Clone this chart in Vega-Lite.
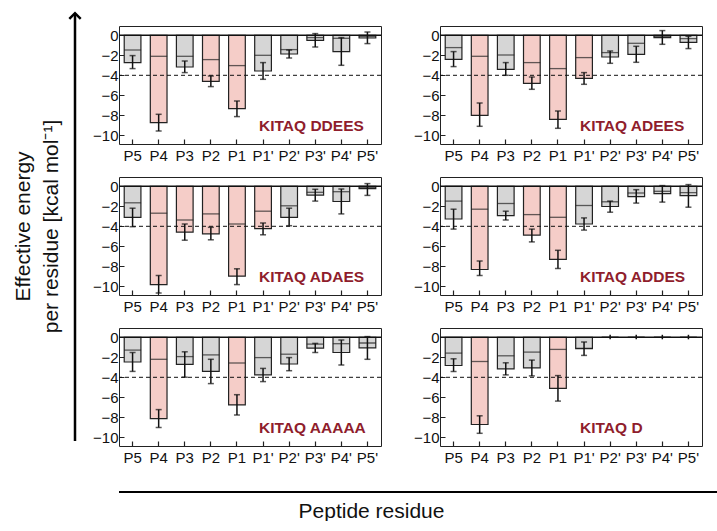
{
  "$schema": "https://vega.github.io/schema/vega-lite/v6.json",
  "background": "white",
  "padding": {"left": 12, "top": 8, "right": 0, "bottom": 0},
  "config": {
    "view": {"stroke": null},
    "font": "Liberation Sans",
    "header": {"labels": false, "title": null, "labelPadding": 0, "titlePadding": 0, "labelFontSize": 0, "labelExpr": "''"},
    "headerFacet": {"labels": false, "title": null, "labelPadding": 0, "titlePadding": 0, "labelFontSize": 0, "labelExpr": "''"},
    "axis": {"labelFont": "Liberation Sans", "titleFont": "Liberation Sans", "labelColor": "#111", "titleColor": "#111"},
    "axisY": {"labelOverlap": false, "labelBound": false, "labelFlush": false},
    "text": {"font": "Liberation Sans"}
  },
  "datasets": {
    "energy": [
      {"panel": "KITAQ DDEES", "res": "P5", "val": -2.73, "inner": -1.47, "lo": -3.33, "hi": -2.03},
      {"panel": "KITAQ DDEES", "res": "P4", "val": -8.73, "inner": -2.1, "lo": -9.57, "hi": -7.9},
      {"panel": "KITAQ DDEES", "res": "P3", "val": -3.17, "inner": -2.1, "lo": -3.73, "hi": -2.57},
      {"panel": "KITAQ DDEES", "res": "P2", "val": -4.6, "inner": -2.43, "lo": -5.13, "hi": -4.07},
      {"panel": "KITAQ DDEES", "res": "P1", "val": -7.33, "inner": -3.03, "lo": -8.13, "hi": -6.57},
      {"panel": "KITAQ DDEES", "res": "P1'", "val": -3.57, "inner": -2.0, "lo": -4.4, "hi": -2.73},
      {"panel": "KITAQ DDEES", "res": "P2'", "val": -1.87, "inner": -1.43, "lo": -2.27, "hi": -1.47},
      {"panel": "KITAQ DDEES", "res": "P3'", "val": -0.5, "inner": -0.23, "lo": -1.17, "hi": 0.17},
      {"panel": "KITAQ DDEES", "res": "P4'", "val": -1.63, "inner": -0.3, "lo": -3.0, "hi": -0.23},
      {"panel": "KITAQ DDEES", "res": "P5'", "val": -0.27, "inner": -0.13, "lo": -0.83, "hi": 0.33},

      {"panel": "KITAQ ADEES", "res": "P5", "val": -2.4, "inner": -1.23, "lo": -3.13, "hi": -1.63},
      {"panel": "KITAQ ADEES", "res": "P4", "val": -8.0, "inner": -2.1, "lo": -9.1, "hi": -6.77},
      {"panel": "KITAQ ADEES", "res": "P3", "val": -3.4, "inner": -1.97, "lo": -4.0, "hi": -2.73},
      {"panel": "KITAQ ADEES", "res": "P2", "val": -4.8, "inner": -2.73, "lo": -5.4, "hi": -4.17},
      {"panel": "KITAQ ADEES", "res": "P1", "val": -8.4, "inner": -3.33, "lo": -9.3, "hi": -7.57},
      {"panel": "KITAQ ADEES", "res": "P1'", "val": -4.3, "inner": -2.23, "lo": -4.9, "hi": -3.73},
      {"panel": "KITAQ ADEES", "res": "P2'", "val": -2.17, "inner": -1.73, "lo": -2.8, "hi": -1.57},
      {"panel": "KITAQ ADEES", "res": "P3'", "val": -1.9, "inner": -0.8, "lo": -2.7, "hi": -1.1},
      {"panel": "KITAQ ADEES", "res": "P4'", "val": -0.23, "inner": -0.1, "lo": -0.9, "hi": 0.47},
      {"panel": "KITAQ ADEES", "res": "P5'", "val": -0.7, "inner": -0.33, "lo": -1.33, "hi": -0.1},

      {"panel": "KITAQ ADAES", "res": "P5", "val": -3.1, "inner": -1.65, "lo": -4.04, "hi": -2.19},
      {"panel": "KITAQ ADAES", "res": "P4", "val": -9.83, "inner": -2.69, "lo": -10.67, "hi": -8.92},
      {"panel": "KITAQ ADAES", "res": "P3", "val": -4.58, "inner": -3.37, "lo": -5.39, "hi": -3.77},
      {"panel": "KITAQ ADAES", "res": "P2", "val": -4.75, "inner": -2.76, "lo": -5.35, "hi": -4.1},
      {"panel": "KITAQ ADAES", "res": "P1", "val": -8.99, "inner": -3.77, "lo": -9.83, "hi": -8.25},
      {"panel": "KITAQ ADAES", "res": "P1'", "val": -4.24, "inner": -2.49, "lo": -4.85, "hi": -3.67},
      {"panel": "KITAQ ADAES", "res": "P2'", "val": -3.1, "inner": -1.95, "lo": -3.94, "hi": -2.19},
      {"panel": "KITAQ ADAES", "res": "P3'", "val": -0.88, "inner": -0.6, "lo": -1.48, "hi": -0.3},
      {"panel": "KITAQ ADAES", "res": "P4'", "val": -1.52, "inner": -0.54, "lo": -2.76, "hi": -0.27},
      {"panel": "KITAQ ADAES", "res": "P5'", "val": -0.24, "inner": -0.13, "lo": -0.91, "hi": 0.27},

      {"panel": "KITAQ ADDES", "res": "P5", "val": -3.27, "inner": -1.48, "lo": -4.28, "hi": -2.29},
      {"panel": "KITAQ ADDES", "res": "P4", "val": -8.32, "inner": -2.29, "lo": -8.92, "hi": -7.47},
      {"panel": "KITAQ ADDES", "res": "P3", "val": -2.93, "inner": -1.72, "lo": -3.37, "hi": -2.49},
      {"panel": "KITAQ ADDES", "res": "P2", "val": -4.88, "inner": -2.83, "lo": -5.56, "hi": -4.28},
      {"panel": "KITAQ ADDES", "res": "P1", "val": -7.31, "inner": -3.1, "lo": -8.22, "hi": -6.4},
      {"panel": "KITAQ ADDES", "res": "P1'", "val": -3.77, "inner": -1.92, "lo": -4.38, "hi": -3.16},
      {"panel": "KITAQ ADDES", "res": "P2'", "val": -2.02, "inner": -1.55, "lo": -2.59, "hi": -1.48},
      {"panel": "KITAQ ADDES", "res": "P3'", "val": -1.04, "inner": -0.67, "lo": -1.68, "hi": -0.34},
      {"panel": "KITAQ ADDES", "res": "P4'", "val": -0.74, "inner": -0.5, "lo": -1.58, "hi": 0.07},
      {"panel": "KITAQ ADDES", "res": "P5'", "val": -0.94, "inner": -0.64, "lo": -2.09, "hi": 0.17},

      {"panel": "KITAQ AAAAA", "res": "P5", "val": -2.47, "inner": -1.28, "lo": -3.41, "hi": -1.52},
      {"panel": "KITAQ AAAAA", "res": "P4", "val": -8.14, "inner": -2.2, "lo": -9.02, "hi": -7.23},
      {"panel": "KITAQ AAAAA", "res": "P3", "val": -2.7, "inner": -1.93, "lo": -3.99, "hi": -1.45},
      {"panel": "KITAQ AAAAA", "res": "P2", "val": -3.41, "inner": -1.76, "lo": -4.63, "hi": -2.2},
      {"panel": "KITAQ AAAAA", "res": "P1", "val": -6.76, "inner": -2.57, "lo": -7.77, "hi": -5.74},
      {"panel": "KITAQ AAAAA", "res": "P1'", "val": -3.75, "inner": -2.03, "lo": -4.43, "hi": -3.11},
      {"panel": "KITAQ AAAAA", "res": "P2'", "val": -2.67, "inner": -1.69, "lo": -3.34, "hi": -2.03},
      {"panel": "KITAQ AAAAA", "res": "P3'", "val": -1.08, "inner": -0.68, "lo": -1.52, "hi": -0.61},
      {"panel": "KITAQ AAAAA", "res": "P4'", "val": -1.52, "inner": -0.64, "lo": -2.77, "hi": -0.27},
      {"panel": "KITAQ AAAAA", "res": "P5'", "val": -1.05, "inner": -0.57, "lo": -2.2, "hi": 0.07},

      {"panel": "KITAQ D", "res": "P5", "val": -2.82, "inner": -1.58, "lo": -3.42, "hi": -2.15},
      {"panel": "KITAQ D", "res": "P4", "val": -8.72, "inner": -2.42, "lo": -9.6, "hi": -7.85},
      {"panel": "KITAQ D", "res": "P3", "val": -3.15, "inner": -1.85, "lo": -3.76, "hi": -2.55},
      {"panel": "KITAQ D", "res": "P2", "val": -3.05, "inner": -1.48, "lo": -3.86, "hi": -2.28},
      {"panel": "KITAQ D", "res": "P1", "val": -5.1, "inner": -1.21, "lo": -6.38, "hi": -3.83},
      {"panel": "KITAQ D", "res": "P1'", "val": -1.14, "inner": -1.1, "lo": -1.81, "hi": -0.47},
      {"panel": "KITAQ D", "res": "P2'", "val": 0, "inner": 0, "lo": -0.2, "hi": 0.25},
      {"panel": "KITAQ D", "res": "P3'", "val": 0, "inner": 0, "lo": -0.2, "hi": 0.25},
      {"panel": "KITAQ D", "res": "P4'", "val": 0, "inner": 0, "lo": -0.2, "hi": 0.25},
      {"panel": "KITAQ D", "res": "P5'", "val": 0, "inner": 0, "lo": -0.2, "hi": 0.25}
    ],
    "yarrow": [{"from": 0, "to": 1}],
    "xarrow": [{"from": 0, "to": 1.008}]
  },
  "spacing": 6,
  "hconcat": [
    {
      "data": {"name": "yarrow"},
      "width": 4,
      "height": 415,
      "layer": [
        {
          "mark": {"type": "rule", "color": "black", "strokeWidth": 2.5},
          "encoding": {
            "x": {"datum": 0, "type": "quantitative", "scale": {"domain": [-1, 1]}, "axis": null},
            "y": {"field": "from", "type": "quantitative", "scale": {"domain": [0, 0.97], "nice": false, "zero": false},
                  "axis": {"title": ["Effective energy", "per residue [kcal mol⁻¹]"], "labels": false, "ticks": false, "domain": false, "grid": false,
                           "titleFontSize": 21, "titleFontWeight": "normal", "titleLineHeight": 28, "titlePadding": 12, "titleY": 200}},
            "y2": {"field": "to"}
          }
        },
        {
          "mark": {"type": "point", "shape": "M-1,1L0,0L1,1", "filled": false, "stroke": "black", "strokeWidth": 2.5, "size": 130, "opacity": 1},
          "encoding": {
            "x": {"datum": 0, "type": "quantitative"},
            "y": {"field": "to", "type": "quantitative"}
          }
        }
      ]
    },
    {
      "spacing": 25,
      "vconcat": [
        {
          "data": {"name": "energy"},
          "facet": {"field": "panel", "type": "nominal", "title": null,
                    "sort": ["KITAQ DDEES", "KITAQ ADEES", "KITAQ ADAES", "KITAQ ADDES", "KITAQ AAAAA", "KITAQ D"],
                    "header": {"labels": false, "title": null, "labelPadding": 0, "labelFontSize": 0, "labelExpr": "''"}},
          "columns": 2,
          "spacing": {"column": 30, "row": 12},
          "resolve": {"axis": {"x": "independent", "y": "independent"}},
          "spec": {
            "width": 262,
            "height": 118,
            "view": {"stroke": "#222", "strokeWidth": 1},
            "encoding": {
              "x": {"field": "res", "type": "nominal",
                    "sort": ["P5", "P4", "P3", "P2", "P1", "P1'", "P2'", "P3'", "P4'", "P5'"],
                    "scale": {"paddingInner": 0.36, "paddingOuter": 0.2},
                    "axis": {"title": null, "labelAngle": 0, "domain": false, "tickSize": -5, "tickColor": "#222", "tickWidth": 1.2,
                             "labelFontSize": 15, "labelPadding": 9}}
            },
            "layer": [
              {
                "mark": {"type": "bar", "stroke": "#222", "strokeWidth": 1.2},
                "encoding": {
                  "y": {"field": "val", "type": "quantitative",
                        "scale": {"domain": [-10.87, 0.93], "nice": false, "zero": false},
                        "axis": {"title": null, "values": [0, -2, -4, -6, -8, -10], "tickCount": 12, "grid": false, "domain": false,
                                 "labelOverlap": false, "labelBound": false, "labelFlush": false, "labelSeparation": 0,
                                 "labelExpr": "datum.value < 0 ? '−' + abs(datum.value) : '0'",
                                 "tickSize": -5, "tickColor": "#222", "labelFontSize": 15, "labelPadding": 6}},
                  "y2": {"datum": 0},
                  "color": {"condition": {"test": "datum.val < -4", "value": "#f5cdc8"}, "value": "#d6d6d6"}
                }
              },
              {
                "mark": {"type": "tick", "color": "#222", "thickness": 1.3, "size": 17},
                "encoding": {"y": {"field": "inner", "type": "quantitative"}}
              },
              {
                "mark": {"type": "rule", "color": "#111", "strokeWidth": 1.5},
                "encoding": {"y": {"field": "lo", "type": "quantitative"}, "y2": {"field": "hi"}}
              },
              {
                "transform": [{"filter": "datum.val < 0"}],
                "mark": {"type": "tick", "color": "#111", "thickness": 1.5, "size": 6},
                "encoding": {"y": {"field": "lo", "type": "quantitative"}}
              },
              {
                "transform": [{"filter": "datum.val < 0"}],
                "mark": {"type": "tick", "color": "#111", "thickness": 1.5, "size": 6},
                "encoding": {"y": {"field": "hi", "type": "quantitative"}}
              },
              {
                "transform": [{"filter": "datum.res === 'P5'"}],
                "mark": {"type": "rule", "color": "#111", "strokeWidth": 1.6},
                "encoding": {"x": null, "y": {"datum": 0, "type": "quantitative"}}
              },
              {
                "transform": [{"filter": "datum.res === 'P5'"}],
                "mark": {"type": "rule", "color": "#111", "strokeWidth": 1, "strokeDash": [4, 3]},
                "encoding": {"x": null, "y": {"datum": -4, "type": "quantitative"}}
              },
              {
                "transform": [{"filter": "datum.res === \"P1'\""}],
                "mark": {"type": "text", "align": "left", "baseline": "middle", "dx": -4, "fontSize": 15.5, "fontWeight": "bold", "color": "#8f1d2c"},
                "encoding": {"y": {"datum": -9.05, "type": "quantitative"}, "text": {"field": "panel"}}
              }
            ]
          }
        },
        {
          "data": {"name": "xarrow"},
          "width": 599,
          "height": 2,
          "layer": [
            {
              "mark": {"type": "rule", "color": "black", "strokeWidth": 3, "clip": true},
              "encoding": {
                "x": {"field": "from", "type": "quantitative", "scale": {"domain": [0, 1], "nice": false, "zero": false},
                      "axis": {"title": "Peptide residue", "labels": false, "ticks": false, "domain": false, "grid": false,
                               "titleFontSize": 21, "titleFontWeight": "normal", "titleX": 252, "titlePadding": 7}},
                "x2": {"field": "to"},
                "y": {"datum": 0, "type": "quantitative", "scale": {"domain": [-1, 1]}, "axis": null}
              }
            },
            {
              "mark": {"type": "point", "shape": "M-1,-1L0,0L-1,1", "filled": false, "stroke": "black", "strokeWidth": 2.5, "size": 140, "opacity": 1, "clip": true},
              "encoding": {
                "x": {"field": "to", "type": "quantitative"},
                "y": {"datum": 0, "type": "quantitative"}
              }
            }
          ]
        }
      ]
    }
  ]
}
